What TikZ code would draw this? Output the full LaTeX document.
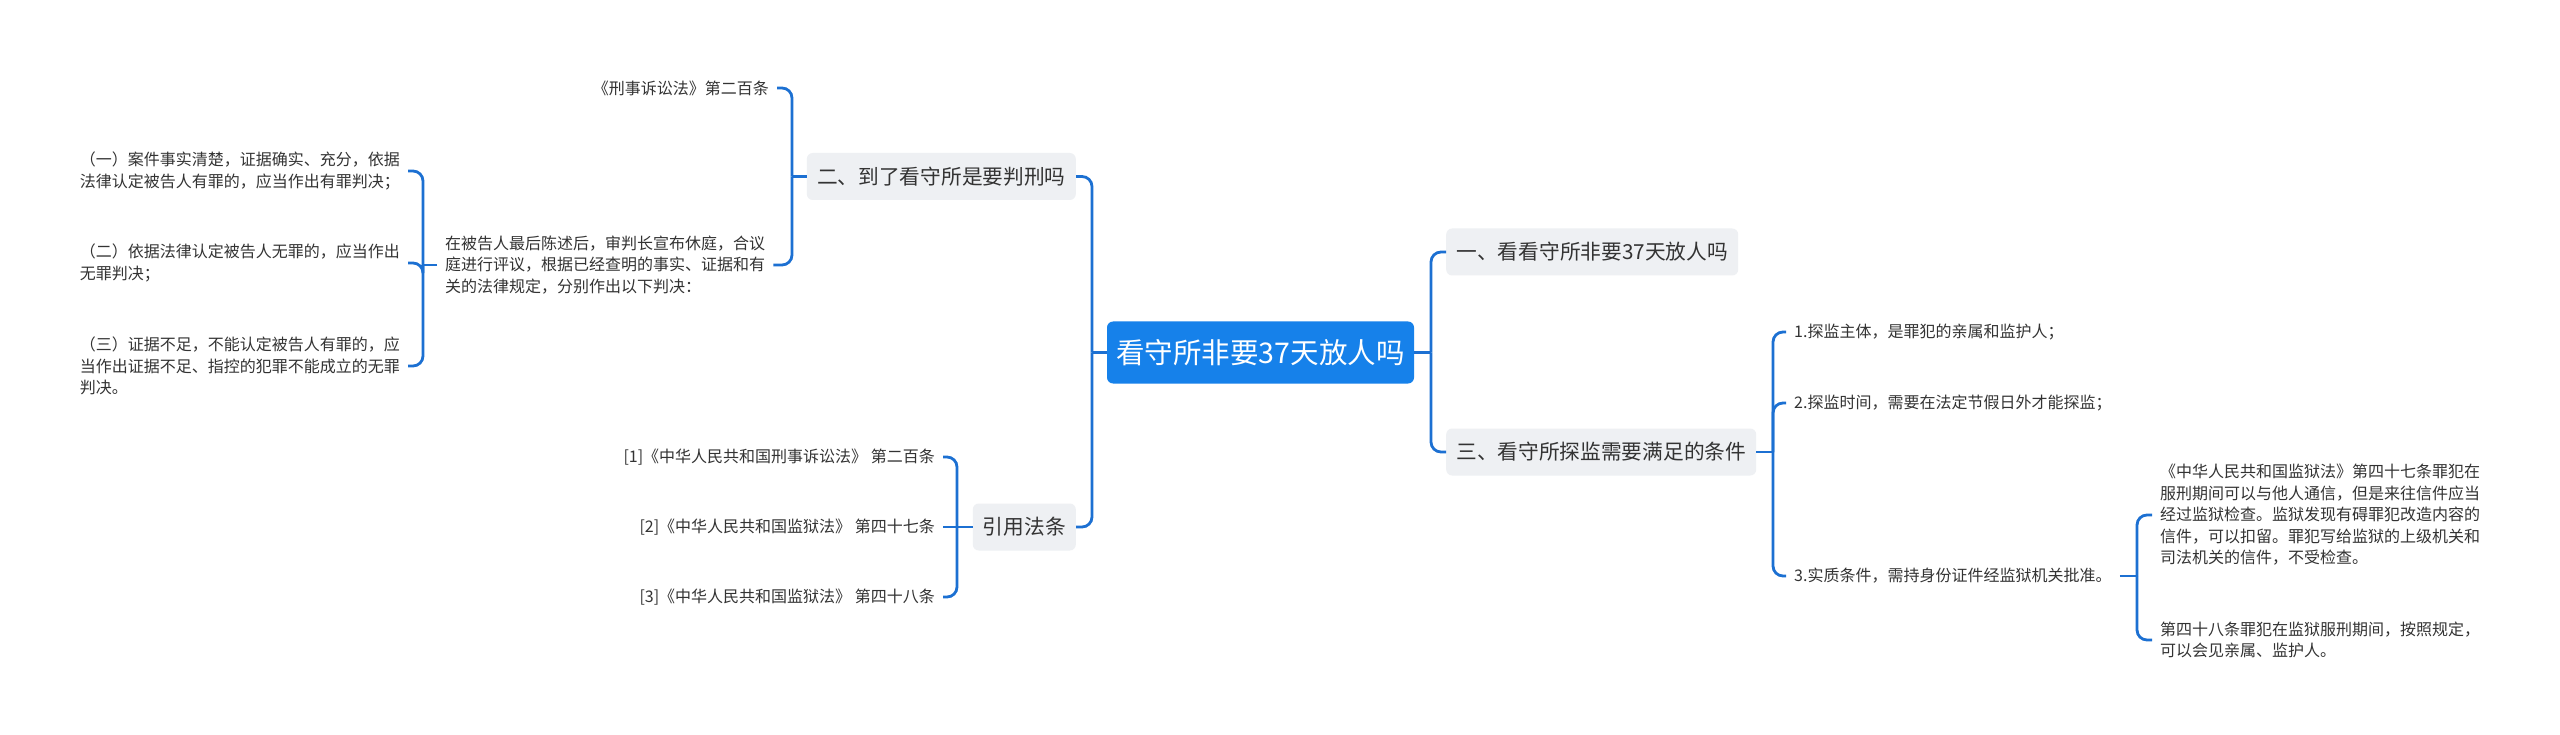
\documentclass[tikz,border=0pt]{standalone}
\usepackage{fontspec}
\setmainfont{Noto Sans CJK SC}
\definecolor{rootblue}{RGB}{22,129,234}
\definecolor{lineblue}{RGB}{28,112,210}
\definecolor{topicgray}{RGB}{238,240,243}
\definecolor{txt}{RGB}{51,51,51}
\tikzset{
  rootnode/.style={fill=rootblue, rounded corners=6pt, text=white, font=\fontsize{28.5}{32}\selectfont, minimum width=307pt, minimum height=62pt, inner xsep=8pt},
  topicnode/.style={fill=topicgray, rounded corners=6pt, text=txt, font=\fontsize{20.7}{24}\selectfont, minimum height=47pt, inner xsep=9pt},
  leafnode/.style={text=txt, font=\fontsize{16}{21.5}\selectfont, align=left, inner xsep=8pt, inner ysep=2pt},
  conn/.style={draw=lineblue, line width=2.8pt},
  branch/.style={conn, rounded corners=10pt}
}
\begin{document}
\begin{tikzpicture}[x=1pt,y=-1pt]
\useasboundingbox (0,0) rectangle (2560,735);
\fill[white] (0,0) rectangle (2560,735);

% root and topics
\node[rootnode] (root) at (1260.5,352.5) {看守所非要37天放人吗};
\node[topicnode, anchor=east, minimum width=269pt] (er) at (1076,176.5) {二、到了看守所是要判刑吗};
\node[topicnode, anchor=east, minimum width=103pt] (yy) at (1076,527) {引用法条};
\node[topicnode, anchor=west, minimum width=292pt] (yi) at (1446,252) {一、看看守所非要37天放人吗};
\node[topicnode, anchor=west, minimum width=310pt] (san) at (1446,452) {三、看守所探监需要满足的条件};

% left leaves
\node[leafnode, anchor=east] (xsf) at (777,88) {《刑事诉讼法》第二百条};
\node[leafnode, anchor=west] (judge) at (437,265) {在被告人最后陈述后，审判长宣布休庭，合议\\庭进行评议，根据已经查明的事实、证据和有\\关的法律规定，分别作出以下判决：};
\node[leafnode, anchor=east] (j1) at (408,171) {（一）案件事实清楚，证据确实、充分，依据\\法律认定被告人有罪的，应当作出有罪判决；};
\node[leafnode, anchor=east] (j2) at (408,263) {（二）依据法律认定被告人无罪的，应当作出\\无罪判决；};
\node[leafnode, anchor=east] (j3) at (408,366) {（三）证据不足，不能认定被告人有罪的，应\\当作出证据不足、指控的犯罪不能成立的无罪\\判决。};

\node[leafnode, anchor=east] (c1) at (943,457) {[1]《中华人民共和国刑事诉讼法》 第二百条};
\node[leafnode, anchor=east] (c2) at (943,527) {[2]《中华人民共和国监狱法》 第四十七条};
\node[leafnode, anchor=east] (c3) at (943,597) {[3]《中华人民共和国监狱法》 第四十八条};

% right leaves
\node[leafnode, anchor=west] (r1) at (1786,332) {1.探监主体，是罪犯的亲属和监护人；};
\node[leafnode, anchor=west] (r2) at (1786,403) {2.探监时间，需要在法定节假日外才能探监；};
\node[leafnode, anchor=west] (r3) at (1786,576) {3.实质条件，需持身份证件经监狱机关批准。};
\node[leafnode, anchor=west] (a47) at (2152,515) {《中华人民共和国监狱法》第四十七条罪犯在\\服刑期间可以与他人通信，但是来往信件应当\\经过监狱检查。监狱发现有碍罪犯改造内容的\\信件，可以扣留。罪犯写给监狱的上级机关和\\司法机关的信件，不受检查。};
\node[leafnode, anchor=west] (a48) at (2152,640) {第四十八条罪犯在监狱服刑期间，按照规定，\\可以会见亲属、监护人。};

% spine points
\coordinate (sL0) at (1092,352.5);
\coordinate (sL1) at (792,176.5);
\coordinate (sL2) at (423,265);
\coordinate (sL3) at (957,527);
\coordinate (sR0) at (1431,352.5);
\coordinate (sR1) at (1773,452);
\coordinate (sR2) at (2137,576);

% root connectors
\draw[conn] (root.west) -- (sL0);
\draw[branch] (sL0) |- (er.east);
\draw[branch] (sL0) |- (yy.east);
\draw[conn] (root.east) -- (sR0);
\draw[branch] (sR0) |- (yi.west);
\draw[branch] (sR0) |- (san.west);

% er connectors
\draw[conn] (er.west) -- (sL1);
\draw[branch] (sL1) |- (xsf.east);
\draw[branch] (sL1) |- (judge.east);
\draw[conn] (judge.west) -- (sL2);
\draw[branch] (sL2) |- (j1.east);
\draw[branch] (sL2) |- (j2.east);
\draw[branch] (sL2) |- (j3.east);

% citations
\draw[conn] (yy.west) -- (sL3);
\draw[branch] (sL3) |- (c1.east);
\draw[conn] (sL3) -- (c2.east);
\draw[branch] (sL3) |- (c3.east);

% san connectors
\draw[conn] (san.east) -- (sR1);
\draw[branch] (sR1) |- (r1.west);
\draw[branch] (sR1) |- (r2.west);
\draw[branch] (sR1) |- (r3.west);
\draw[conn] (r3.east) -- (sR2);
\draw[branch] (sR2) |- (a47.west);
\draw[branch] (sR2) |- (a48.west);
\end{tikzpicture}
\end{document}
